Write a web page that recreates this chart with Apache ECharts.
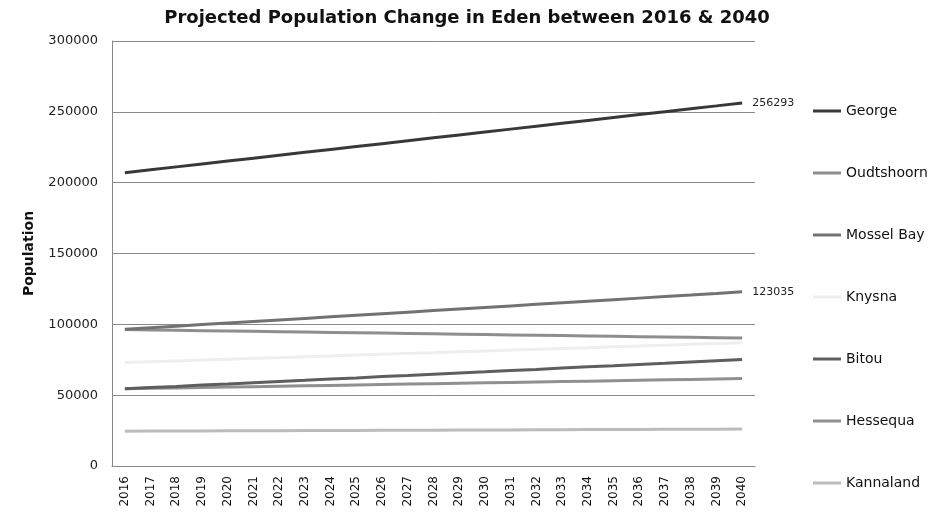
<!DOCTYPE html>
<html>
<head>
<meta charset="utf-8">
<script src="https://cdn.jsdelivr.net/npm/echarts@6/dist/echarts.min.js"></script>
<style>
  html, body { margin: 0; padding: 0; background: #fff; }
  #chart { width: 947px; height: 515px; }
</style>
</head>
<body>
<div id="chart"></div>
<script>
// Years on the category axis
const years = ['2016','2017','2018','2019','2020','2021','2022','2023','2024','2025','2026','2027','2028',
               '2029','2030','2031','2032','2033','2034','2035','2036','2037','2038','2039','2040'];

// Projected population per municipality
const george     = [207000,209100,211150,213200,215250,217300,219350,221400,223450,225500,227550,229600,231650,
                     233700,235750,237800,239850,241900,243950,246000,248050,250100,252150,254200,256293];
const oudtshoorn = [96300,96050,95800,95550,95300,95050,94800,94550,94300,94050,93800,93550,93300,
                     93050,92800,92550,92300,92050,91800,91550,91300,91050,90800,90550,90300];
const mosselBay  = [96500,97600,98700,99800,100900,102000,103100,104200,105300,106400,107500,108600,109700,
                     110800,111900,113000,114100,115200,116300,117400,118500,119600,120700,121850,123035];
const knysna     = [73000,73600,74200,74800,75400,76000,76500,77100,77700,78300,78900,79500,80000,
                     80600,81200,81800,82400,83000,83500,84100,84700,85300,85900,86400,87000];
const bitou      = [54500,55400,56200,57100,57900,58800,59700,60500,61400,62200,63100,63900,64800,
                     65700,66500,67400,68200,69100,70000,70800,71700,72500,73400,74300,75200];
const hessequa   = [54500,54800,55100,55400,55700,56000,56300,56600,56900,57200,57500,57800,58100,
                     58400,58700,59000,59300,59600,59900,60200,60500,60800,61100,61400,61700];
const kannaland  = [24600,24660,24720,24780,24840,24900,24960,25020,25080,25140,25200,25260,25320,
                     25380,25440,25500,25560,25620,25680,25740,25800,25860,25920,25980,26040];

const FONT = 'DejaVu Sans';

// Only the final value of these series is labelled
const labelled = { 'George': true, 'Mossel Bay': true };

function makeSeries(name, data, color) {
  return {
    name: name,
    type: 'line',
    data: data,
    symbol: 'none',
    showSymbol: false,
    lineStyle: { width: 3, color: color },
    itemStyle: { color: color },
    emphasis: { disabled: true },
    endLabel: {
      show: !!labelled[name],
      distance: 10,
      fontFamily: FONT,
      fontSize: 11,
      color: '#222',
      formatter: function (p) { return String(p.value); }
    }
  };
}

const chart = echarts.init(document.getElementById('chart'), null, { renderer: 'canvas' });
chart.setOption({
  animation: false,
  backgroundColor: '#ffffff',
  title: {
    text: 'Projected Population Change in Eden between 2016 & 2040',
    left: 462,
    textAlign: 'center',
    top: 4,
    textStyle: { fontFamily: FONT, fontWeight: 'bold', fontSize: 18, color: '#111' }
  },
  grid: { left: 112, right: 192, top: 41, bottom: 49, containLabel: false },
  legend: {
    orient: 'vertical',
    left: 813,
    top: 104,
    padding: 0,
    icon: 'rect',
    itemWidth: 28,
    itemHeight: 3,
    itemGap: 48,
    textStyle: { fontFamily: FONT, fontSize: 14, color: '#111' },
    data: ['George','Oudtshoorn','Mossel Bay','Knysna','Bitou','Hessequa','Kannaland']
  },
  xAxis: {
    type: 'category',
    data: years,
    boundaryGap: true,
    axisLine: { lineStyle: { color: '#888', width: 1 } },
    axisTick: { show: false },
    axisLabel: { rotate: 90, interval: 0, margin: 10, fontFamily: FONT, fontSize: 12, color: '#111' }
  },
  yAxis: {
    type: 'value',
    min: 0,
    max: 300000,
    interval: 50000,
    name: 'Population',
    nameLocation: 'middle',
    nameGap: 76,
    nameTextStyle: { fontFamily: FONT, fontWeight: 'bold', fontSize: 14, color: '#111' },
    axisLine: { show: true, lineStyle: { color: '#888', width: 1 } },
    axisTick: { show: false },
    axisLabel: {
      margin: 14, fontFamily: FONT, fontSize: 13, color: '#222',
      formatter: function (v) { return String(v); }
    },
    splitLine: { lineStyle: { color: '#8a8a8a', width: 1 } }
  },
  series: [
    makeSeries('Kannaland', kannaland, '#bcbcbc'),
    makeSeries('Hessequa', hessequa, '#909090'),
    makeSeries('Bitou', bitou, '#5e5e5e'),
    makeSeries('Knysna', knysna, '#eeeeee'),
    makeSeries('Oudtshoorn', oudtshoorn, '#8e8e8e'),
    makeSeries('Mossel Bay', mosselBay, '#727272'),
    makeSeries('George', george, '#383838')
  ]
});
</script>
</body>
</html>
